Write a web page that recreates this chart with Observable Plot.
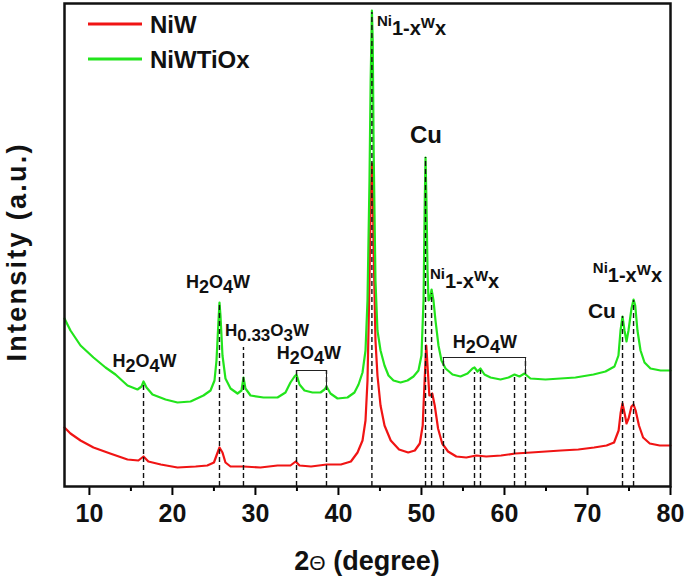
<!DOCTYPE html>
<html><head><meta charset="utf-8">
<script src="https://cdn.jsdelivr.net/npm/d3@7"></script>
<script src="https://cdn.jsdelivr.net/npm/@observablehq/plot@0.6"></script>
<style>
body{margin:0;background:#fff;}
#chart{position:relative;width:685px;height:579px;}
svg{font-family:"Liberation Sans",Arial,sans-serif;}
</style></head><body><div id="chart"></div>
<script>
// ---- data (2θ in degrees, intensity in arbitrary units) ----
const seriesNames = ["NiW", "NiWTiOx"];
const seriesColors = ["#f01414", "#22e41c"];

const greenTheta = [7.0,7.72,8.93,10.49,11.94,13.14,14.59,15.79,16.28,16.52,16.88,17.6,19.17,20.61,22.18,23.74,24.59,25.07,25.31,25.55,25.67,25.79,26.03,26.39,27.0,27.84,28.32,28.56,28.8,29.41,30.97,32.66,33.62,34.22,34.71,34.95,35.31,35.91,36.87,37.84,38.32,38.56,39.04,39.89,41.09,41.93,42.42,42.9,43.26,43.5,43.74,43.88,44.03,44.13,44.24,44.46,44.7,45.07,45.55,46.03,46.63,47.48,48.32,49.04,49.64,50.0,50.25,50.4,50.49,50.6,50.73,50.85,51.03,51.22,51.45,51.69,52.05,52.41,52.9,53.74,54.7,55.55,56.15,56.39,56.75,57.11,57.59,58.32,59.52,60.49,61.21,61.81,62.41,63.13,64.94,66.75,68.55,70.72,72.17,73.25,73.73,73.98,74.22,74.46,74.7,74.94,75.3,75.55,75.75,76.02,76.39,76.87,77.59,78.8,80];
const greenIntensity = [168,156,141,129,119,112,101,97,100,105,99,92,87,84,85,91,96,106,126,166,184,171,131,108,98,93,96,109,98,91,89,89,94,104,110,112,102,96,94,94,97,100,93,88,89,94,102,114,136,186,306,406,476,446,336,206,156,136,121,111,106,104,106,110,116,131,186,286,329,286,216,186,188,197,186,166,141,126,118,112,110,113,118,119,115,118,112,109,107,109,112,110,113,108,107,108,109,112,115,120,131,156,170,156,145,156,178,187,181,156,136,124,118,116,116];

const redTheta = [7.0,7.72,8.93,10.49,12.5,14.59,15.9,16.52,17.1,18.6,20.61,22.8,24.2,25.0,25.31,25.67,26.03,26.39,27.0,28.56,30.6,32.66,34.22,34.85,35.31,36.7,38.6,40.3,41.5,42.3,42.9,43.26,43.5,43.74,43.88,44.03,44.13,44.24,44.46,44.7,45.07,45.55,46.3,47.3,48.4,49.2,49.8,50.15,50.38,50.58,50.73,50.95,51.1,51.3,51.6,52.0,52.5,53.2,54.2,55.4,56.6,57.8,59.6,61.3,63.2,65.0,66.8,68.9,70.8,72.3,73.2,73.75,74.0,74.22,74.5,74.7,74.95,75.3,75.55,75.8,76.2,76.7,77.5,78.7,80];
const redIntensity = [59,53,46,39,33,27,26,30,25,22,19,20,21,24,31,39,34,24,20,20,19,21,21,25,21,20,22,22,25,34,46,66,106,206,286,323,306,236,146,111,81,61,46,37,34,36,43,61,106,141,121,91,91,93,81,58,43,35,30,29,31,30,31,33,34,35,36,37,39,41,44,56,74,83,72,63,68,80,82,76,61,49,43,41,41];

// reference (dashed) lines: position and upper end
const refTheta = [16.52,25.67,28.56,34.95,38.56,44.03,50.49,51.22,52.65,56.39,57.11,61.21,62.53,74.22,75.55];
const refTop   = [101,181,139,116,116,474,329,193,129,114,116,111,129,170,186];

// brackets grouping reflections
const bracketTheta = [[34.95,34.95,38.56,38.56],[52.65,52.65,62.53,62.53]];
const bracketInt   = [[111,116,116,98],[121,129,129,113]];

// x-axis ticks
const majorTicks = [10,20,30,40,50,60,70,80];
const minorTicks = [15,25,35,45,55,65,75];

// phase labels: segments [text, relative size, baseline offset]
const H2O4W = [["H",1,0],["2",1,5],["O",1,0],["4",1,5],["W",1,0]];
const NiWx  = [["Ni",0.75,-9],["1-x",1,0],["W",0.75,-7],["x",1,0]];
const H033  = [["H",1,0],["0.33",1,5],["O",1,0],["3",1,5],["W",1,0]];
const labelTheta = [16.7,25.55,26.39,36.5,44.7,50.6,51.09,57.7,71.8,70.7];
const labelInt   = [119,198,150,127,451,343,198,138,168,204];
const labelParts = [H2O4W,H2O4W,H033,H2O4W,NiWx,[["Cu",1,0]],NiWx,H2O4W,[["Cu",1,0]],NiWx];
const labelAnchor= ["middle","middle","start","middle","start","middle","start","middle","middle","start"];
const labelSize  = [18,18,17,18,20,24,20,18,21,20];

// ---- build tables ----
const green = greenTheta.map((t,i)=>({t, v:greenIntensity[i]}));
const red = redTheta.map((t,i)=>({t, v:redIntensity[i]}));
const refs = refTheta.map((t,i)=>({t, top:refTop[i]}));
const brackets = bracketTheta.flatMap((arr,k)=>arr.map((t,i)=>({k, t, v:bracketInt[k][i]})));

const plot = Plot.plot({
  width: 685, height: 579,
  marginLeft: 64, marginRight: 15, marginTop: 3, marginBottom: 93,
  x: {domain: [7, 80], label: null},
  y: {domain: [0, 483], axis: null, label: null},
  style: {background: "white", fontFamily: "'Liberation Sans', Arial, sans-serif", overflow: "visible"},
  marks: [
    Plot.line(red, {x: "t", y: "v", stroke: seriesColors[0], strokeWidth: 2.2}),
    Plot.line(green, {x: "t", y: "v", stroke: seriesColors[1], strokeWidth: 2.2}),
    Plot.ruleX(refs, {x: "t", y1: 0, y2: "top", stroke: "#111", strokeWidth: 1.4, strokeDasharray: "5,3"}),
    Plot.line(brackets, {x: "t", y: "v", z: "k", stroke: "#222", strokeWidth: 1}),
    Plot.axisX({ticks: majorTicks, tickSize: 9, tickPadding: 9, strokeWidth: 2, fontSize: 25, fontWeight: "bold", fill: "#111", tickFormat: d => d, label: null}),
    Plot.axisX({ticks: minorTicks, tickSize: 5, strokeWidth: 2, tickFormat: () => "", label: null}),
    Plot.frame({stroke: "#111", strokeWidth: 2.5})
  ]
});
document.getElementById("chart").appendChild(plot);

const svg = d3.select(plot);
const xs = plot.scale("x"), ys = plot.scale("y");

// phase labels
labelParts.forEach((parts, i) => {
  const base = labelSize[i];
  const txt = svg.append("text")
    .attr("x", xs.apply(labelTheta[i]))
    .attr("y", ys.apply(labelInt[i]))
    .attr("text-anchor", labelAnchor[i])
    .attr("font-weight", "bold")
    .attr("fill", "#111")
    .attr("font-size", base);
  let prev = 0;
  parts.forEach(([s, rel, off]) => {
    txt.append("tspan").attr("dy", off - prev).attr("font-size", base * rel).text(s);
    prev = off;
  });
});

// legend
const legY = [24, 59];
seriesNames.forEach((name, i) => {
  svg.append("line").attr("x1", 88).attr("x2", 142).attr("y1", legY[i]).attr("y2", legY[i])
    .attr("stroke", seriesColors[i]).attr("stroke-width", 3);
  svg.append("text").attr("x", 150).attr("y", legY[i] + 9).attr("font-size", 24)
    .attr("text-anchor", "start")
    .attr("font-weight", "bold").attr("fill", "#111").text(name);
});

// axis titles
const xt = svg.append("text").attr("x", 367).attr("y", 570).attr("text-anchor", "middle").attr("fill", "#111");
xt.append("tspan").attr("font-size", 27).attr("font-weight", "bold").text("2");
xt.append("tspan").attr("font-size", 21).attr("font-weight", "normal").text("Θ");
xt.append("tspan").attr("font-size", 27).attr("font-weight", "bold").text(" (degree)");

svg.append("text").attr("transform", "translate(26,253) rotate(-90)")
  .attr("text-anchor", "middle").attr("font-size", 27).attr("font-weight", "bold").attr("fill", "#111")
  .attr("textLength", 217).attr("lengthAdjust", "spacing").text("Intensity (a.u.)");
</script></body></html>
